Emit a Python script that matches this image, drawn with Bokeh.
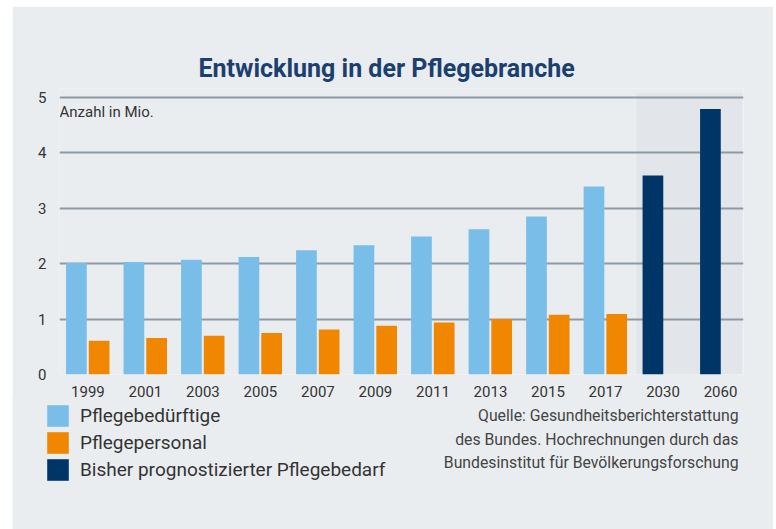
from bokeh.plotting import figure
from bokeh.models import (Range1d, FixedTicker, Legend, LegendItem, Label,
                          ColumnDataSource)
from bokeh.transform import dodge
from bokeh.embed import file_html
from bokeh.resources import INLINE

# ---- data ----
years = ["1999", "2001", "2003", "2005", "2007", "2009", "2011", "2013",
         "2015", "2017", "2030", "2060"]
hist_years = ["1999", "2001", "2003", "2005", "2007", "2009", "2011", "2013",
              "2015", "2017"]
pflegebeduerftige = [2.01, 2.03, 2.07, 2.12, 2.24, 2.33, 2.49, 2.62, 2.85, 3.39]
pflegepersonal = [0.61, 0.66, 0.70, 0.75, 0.81, 0.88, 0.94, 1.00, 1.08, 1.09]
prog_years = ["2030", "2060"]
prognose = [3.59, 4.79]
y_ticks = [0, 1, 2, 3, 4, 5]

title_text = "Entwicklung in der Pflegebranche"
unit_text = "Anzahl in Mio."
source_lines = ["Quelle: Gesundheitsberichterstattung",
                "des Bundes. Hochrechnungen durch das",
                "Bundesinstitut für Bevölkerungsforschung"]
legend_labels = ["Pflegebedürftige", "Pflegepersonal",
                 "Bisher prognostizierter Pflegebedarf"]

# ---- style ----
BG = "#eaedf0"
SHADE = "#e2e6ea"
GRID = "#8d9aa4"
C_BLUE = "#79bee9"
C_ORANGE = "#f18700"
C_NAVY = "#003568"
TXT = "#333333"
TITLE_C = "#1b3f6f"
FONT = "Roboto"

pos = {y: i for i, y in enumerate(years)}
hist_src = ColumnDataSource(dict(pos=[pos[y] for y in hist_years],
                                 a=pflegebeduerftige, b=pflegepersonal))
prog_src = ColumnDataSource(dict(pos=[pos[y] for y in prog_years], v=prognose))

# ---------------- main chart ----------------
p = figure(width=761, height=394, output_backend="svg", toolbar_location=None,
           x_range=Range1d(-0.494, 11.40), y_range=Range1d(0, 5.16),
           min_border_left=47, min_border_right=30, min_border_top=82,
           min_border_bottom=26)
p.margin = (6, 3, 0, 12)
p.background_fill_color = BG
p.border_fill_color = BG
p.outline_line_color = None

p.title.text = title_text
p.title.align = "left"
p.title.offset = 139
p.title.text_font = FONT
p.title.text_font_size = "25px"
p.title.text_font_style = "bold"
p.title.text_color = TITLE_C
p.title.standoff = 11

# shaded forecast area
first_prog = pos[prog_years[0]]
last_prog = pos[prog_years[-1]]
p.quad(left=[first_prog - 0.46], right=[last_prog + 0.38], bottom=[0],
       top=[5.085], fill_color=SHADE, line_color=None, level="image")

r_a = p.vbar(x=dodge("pos", -0.2, range=p.x_range), top="a", width=0.36,
             source=hist_src, fill_color=C_BLUE, line_color=None)
r_b = p.vbar(x=dodge("pos", 0.195, range=p.x_range), top="b", width=0.36,
             source=hist_src, fill_color=C_ORANGE, line_color=None)
r_c = p.vbar(x=dodge("pos", -0.175, range=p.x_range), top="v", width=0.36,
             source=prog_src, fill_color=C_NAVY, line_color=None)

p.xaxis.ticker = FixedTicker(ticks=list(range(len(years))))
p.xaxis.major_label_overrides = {i: y for i, y in enumerate(years)}
p.yaxis.ticker = FixedTicker(ticks=y_ticks)
for ax in (p.xaxis[0], p.yaxis[0]):
    ax.axis_line_color = None
    ax.major_tick_line_color = None
    ax.minor_tick_line_color = None
    ax.major_label_text_font = FONT
    ax.major_label_text_font_size = "15px"
    ax.major_label_text_color = TXT
p.xaxis.major_label_standoff = 5
p.yaxis.major_label_standoff = 7

p.xgrid.grid_line_color = None
p.ygrid.ticker = FixedTicker(ticks=y_ticks)
p.ygrid.grid_line_color = GRID
p.ygrid.grid_line_width = 2

p.add_layout(Label(x=-0.494, y=4.73, text=unit_text, text_align="left",
                   text_baseline="middle", text_font=FONT,
                   text_font_size="15px", text_color=TXT))

# ---------------- legend + source panel (separate root) ----------------
OV = 3  # overlap with the chart above to hide any seam
q = figure(width=761, height=129 + OV, output_backend="svg",
           toolbar_location=None,
           x_range=Range1d(0, 761), y_range=Range1d(129 + OV, 0),
           x_axis_location=None, y_axis_location=None,
           min_border=0, min_border_left=0, min_border_right=0,
           min_border_top=0, min_border_bottom=0)
q.margin = (-OV, 3, 0, 12)
q.grid.visible = False
q.background_fill_color = BG
q.border_fill_color = BG
q.outline_line_color = None

nan = float("nan")
proxy = ColumnDataSource(dict(x=[nan], top=[nan]))
la = q.vbar(x="x", top="top", width=1, source=proxy, fill_color=C_BLUE,
            line_color=None)
lb = q.vbar(x="x", top="top", width=1, source=proxy, fill_color=C_ORANGE,
            line_color=None)
lc = q.vbar(x="x", top="top", width=1, source=proxy, fill_color=C_NAVY,
            line_color=None)

legend = Legend(items=[LegendItem(label=legend_labels[0], renderers=[la]),
                       LegendItem(label=legend_labels[1], renderers=[lb]),
                       LegendItem(label=legend_labels[2], renderers=[lc])],
                location=(32, 46), orientation="vertical",
                glyph_width=27, glyph_height=27, spacing=0, padding=0,
                margin=0, label_standoff=9, label_text_font=FONT,
                label_text_font_size="19px", label_text_color=TXT,
                border_line_color=None, background_fill_alpha=0)
q.add_layout(legend)

for k, line in enumerate(source_lines):
    q.add_layout(Label(x=726, y=OV + 15 + 23.5 * k, text=line,
                       text_align="right", text_baseline="middle",
                       text_font=FONT, text_font_size="15.8px",
                       text_color="#444444"))

open("out.html", "w").write(file_html([p, q], INLINE))
